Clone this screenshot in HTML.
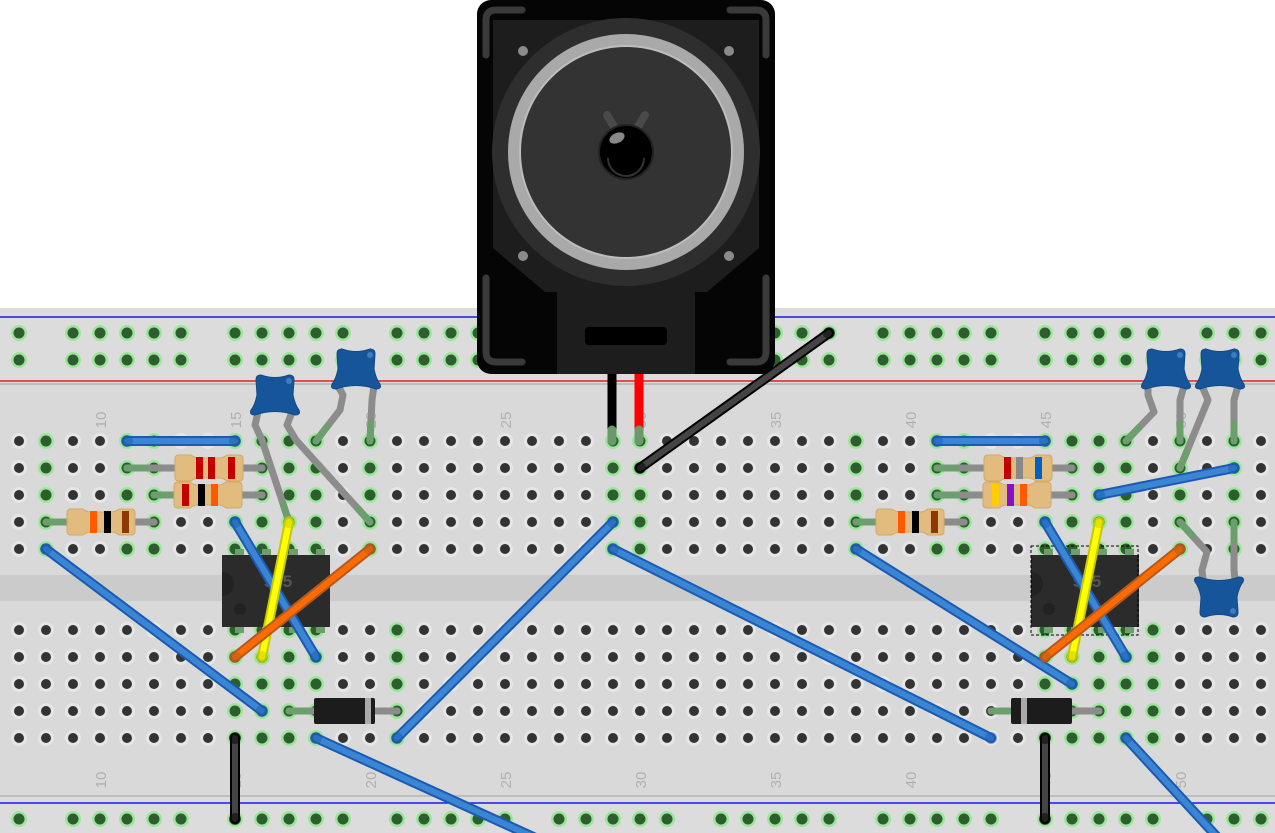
<!DOCTYPE html>
<html><head><meta charset="utf-8">
<style>html,body{margin:0;padding:0;background:#fff;overflow:hidden}svg{display:block}</style>
</head><body>
<svg id="s" xmlns="http://www.w3.org/2000/svg" width="1275" height="833" viewBox="0 0 1275 833">
<rect x="0" y="308" width="1275" height="525" fill="#dcdcdc"/>
<rect x="0" y="384" width="1275" height="412" fill="#d9d9d9"/>
<line x1="0" y1="384" x2="1275" y2="384" stroke="#bdbdbd" stroke-width="2"/>
<line x1="0" y1="796" x2="1275" y2="796" stroke="#bdbdbd" stroke-width="2"/>
<rect x="0" y="575" width="1275" height="26" fill="#cbcbcb"/>
<line x1="0" y1="317" x2="1275" y2="317" stroke="#1a1aee" stroke-width="1.5"/>
<line x1="0" y1="381" x2="1275" y2="381" stroke="#ee1a1a" stroke-width="1.5"/>
<line x1="0" y1="803" x2="1275" y2="803" stroke="#1a1aee" stroke-width="1.5"/>
<g id="holes"></g>
<g id="labels" font-family="Liberation Sans, sans-serif" font-size="15" fill="#b0b0b0"></g>
<g id="parts"></g>
</svg>
<script>
const NS="http://www.w3.org/2000/svg";
function el(p,t,a,txt){const e=document.createElementNS(NS,t);for(const k in a)e.setAttribute(k,a[k]);if(txt)e.textContent=txt;p.appendChild(e);return e;}
const H=document.getElementById('holes'),L=document.getElementById('labels'),P=document.getElementById('parts');
const cx=n=>27*n-170;
function hole(x,y,g){
  if(g){el(H,'circle',{cx:x,cy:y,r:8,fill:'#9be69b'});el(H,'circle',{cx:x,cy:y,r:5.5,fill:'#2e5e2e'});}
  else{el(H,'circle',{cx:x,cy:y,r:8,fill:'#e6e6e6'});el(H,'circle',{cx:x,cy:y,r:5,fill:'#333'});}
}
for(let n=7;n<=54;n++){ if((n-3)%6===5) continue; const x=cx(n);
  [333,360,819].forEach(y=>hole(x,y,true)); }
const topG=[8,11,12,15,16,17,18,20,29,30,38,41,42,45,46,47,48,50,52];
const botG=[15,16,17,18,21,45,46,47,48,49];
for(let n=7;n<=54;n++){const x=cx(n);
  [441,468,495,522,549].forEach(y=>hole(x,y,topG.includes(n)));
  [630,657,684,711,738].forEach(y=>hole(x,y,botG.includes(n)));}
[10,15,20,25,30,35,40,45,50].forEach(n=>{[412,772].forEach(y=>{
  el(L,'text',{x:0,y:0,transform:`translate(${cx(n)+6},${y+8}) rotate(-90)`,'text-anchor':'middle'},String(n));});});
const g=el(P,'g',{});
el(g,'rect',{x:477,y:0,width:298,height:374,rx:14,fill:'#050505'});
el(g,'path',{d:'M493 20 L493 248 L545 292 L557 292 L557 374 L695 374 L695 292 L707 292 L759 248 L759 20 Z',fill:'#1d1d1d'});
el(g,'circle',{cx:626,cy:152,r:134,fill:'#2e2e2e'});
el(g,'circle',{cx:626,cy:152,r:112,fill:'#333',stroke:'#a9a9a9','stroke-width':12});
el(g,'circle',{cx:626,cy:152,r:106,fill:'none',stroke:'#bdbdbd','stroke-width':2});
el(g,'path',{d:'M607 115 L616 130 M645 115 L636 130',stroke:'#4a4a4a','stroke-width':8,'stroke-linecap':'round'});
el(g,'circle',{cx:626,cy:152,r:27,fill:'#000',stroke:'#222','stroke-width':2});
el(g,'path',{d:'M608 158 A18 18 0 0 0 644 158',stroke:'#333','stroke-width':2,fill:'none'});
el(g,'ellipse',{cx:617,cy:138,rx:8,ry:5,fill:'#888',transform:'rotate(-25 617 138)'});
el(g,'rect',{x:585,y:327,width:82,height:18,rx:4,fill:'#000'});
[[523,51],[729,51],[523,256],[729,256]].forEach(([x,y])=>el(g,'circle',{cx:x,cy:y,r:5,fill:'#8a8a8a'}));
el(g,'path',{d:'M486 55 V20 Q486 10 496 10 H522 M766 55 V20 Q766 10 756 10 H730 M486 278 V352 Q486 362 496 362 H522 M766 278 V352 Q766 362 756 362 H730',stroke:'#3a3a3a','stroke-width':7,fill:'none','stroke-linecap':'round'});
el(P,'line',{x1:612,y1:374,x2:612,y2:437,stroke:'#000','stroke-width':9});
el(P,'line',{x1:639,y1:374,x2:639,y2:437,stroke:'#f00','stroke-width':9});
el(P,'line',{x1:612,y1:430,x2:612,y2:441,stroke:'#6a9a6a','stroke-width':9,'stroke-linecap':'round'});
el(P,'line',{x1:639,y1:430,x2:639,y2:441,stroke:'#6a9a6a','stroke-width':9,'stroke-linecap':'round'});
function lead(pts){el(P,'polyline',{points:pts.map(p=>p.join(',')).join(' '),fill:'none',stroke:'#8c8c8c','stroke-width':7,'stroke-linejoin':'round','stroke-linecap':'round'});
 const e=pts[pts.length-1],q=pts[pts.length-2];const dx=e[0]-q[0],dy=e[1]-q[1],d=Math.hypot(dx,dy),l=Math.min(18,d);
 el(P,'line',{x1:e[0]-dx/d*l,y1:e[1]-dy/d*l,x2:e[0],y2:e[1],stroke:'#6d9e6d','stroke-width':7,'stroke-linecap':'round'});}
function cap(x,y,flip){
 const s=flip?-1:1;const Y=v=>y+s*v;
 el(P,'path',{d:`M${x-19} ${Y(5)} Q${x-19} ${Y(0)} ${x-14} ${Y(0)} Q${x} ${Y(5)} ${x+14} ${Y(0)} Q${x+19} ${Y(0)} ${x+19} ${Y(5)} L${x+18} ${Y(20)} Q${x+20} ${Y(30)} ${x+24} ${Y(35)} Q${x+26} ${Y(40)} ${x+20} ${Y(40)} Q${x} ${Y(33)} ${x-20} ${Y(40)} Q${x-26} ${Y(40)} ${x-24} ${Y(35)} Q${x-20} ${Y(30)} ${x-18} ${Y(20)} Z`,fill:'#17559a',stroke:'#124a88','stroke-width':1});
 el(P,'circle',{cx:x+14,cy:Y(6),r:3,fill:'#3f7bbd'});
}
lead([[258,412],[255,425],[262,440],[289,522]]);
lead([[292,412],[287,425],[296,440],[370,522]]);
lead([[338,386],[343,395],[340,410],[316,441]]);
lead([[374,386],[372,400],[370,441]]);
cap(275,375,false);cap(356,349,false);
lead([[1148,386],[1148,395],[1154,412],[1126,441]]);
lead([[1184,386],[1180,400],[1180,441]]);
lead([[1202,386],[1208,400],[1180,468]]);
lead([[1238,386],[1234,400],[1234,441]]);
lead([[1203,580],[1202,570],[1207,552],[1180,522]]);
lead([[1235,580],[1234,570],[1234,522]]);
cap(1166,349,false);cap(1220,349,false);cap(1219,617,true);
function res(x1,x2,y,bx,bands){lead([[x1,y],[x2,y]]);lead([[x2,y],[x1,y]]);
 el(P,'path',{d:`M${bx+4} ${y-13} H${bx+16} Q${bx+20} ${y-10} ${bx+24} ${y-10} H${bx+44} Q${bx+48} ${y-10} ${bx+52} ${y-13} H${bx+64} Q${bx+68} ${y-13} ${bx+68} ${y-9} V${y+9} Q${bx+68} ${y+13} ${bx+64} ${y+13} H${bx+52} Q${bx+48} ${y+10} ${bx+44} ${y+10} H${bx+24} Q${bx+20} ${y+10} ${bx+16} ${y+13} H${bx+4} Q${bx} ${y+13} ${bx} ${y+9} V${y-9} Q${bx} ${y-13} ${bx+4} ${y-13} Z`,fill:'#e2bb7f',stroke:'#d2a865'});
 bands.forEach(([o,c])=>el(P,'rect',{x:bx+o,y:y-11,width:7,height:22,fill:c}));}
res(127,262,468,175,[[21,'#c40000'],[33,'#c40000'],[53,'#c40000']]);
res(154,262,495,174,[[8,'#c40000'],[24,'#000'],[37,'#ff5a00']]);
res(46,154,522,67,[[23,'#ff5a00'],[37,'#000'],[55,'#8b3a00']]);
res(937,1072,468,984,[[20,'#c40000'],[32,'#888'],[51,'#0060c0']]);
res(937,1072,495,983,[[9,'#ffcc00'],[24,'#8a10c8'],[37,'#ff5a00']]);
res(856,964,522,876,[[22,'#ff5a00'],[36,'#000'],[55,'#8b3a00']]);
function chip(x){[0,1,2,3].forEach(i=>{el(P,'rect',{x:x+9+27*i,y:549,width:9,height:9,fill:'#6d9e6d'});el(P,'rect',{x:x+9+27*i,y:624,width:9,height:9,fill:'#6d9e6d'});});
 el(P,'rect',{x:x-4,y:555,width:108,height:72,fill:'#2b2b2b'});
 el(P,'circle',{cx:x+14,cy:609,r:6,fill:'#222'});
 el(P,'path',{d:`M${x-4} 572 A12 12 0 0 1 ${x-4} 596`,fill:'#222'});
 el(P,'text',{x:x+52,y:587,'text-anchor':'middle','font-family':'Liberation Sans, sans-serif','font-size':17,'font-weight':'bold',fill:'#555'},'555');}
chip(226);chip(1035);
el(P,'rect',{x:1031,y:546,width:107,height:89,fill:'none',stroke:'#000','stroke-dasharray':'3,2','stroke-width':1});
function diode(x1,x2,bx,band){lead([[x1,711],[x2,711]]);lead([[x2,711],[x1,711]]);
 el(P,'rect',{x:bx,y:698,width:61,height:26,rx:2,fill:'#1c1c1c'});
 el(P,'rect',{x:bx+band,y:698,width:6,height:26,fill:'#aaa'});}
diode(289,397,314,51);diode(991,1099,1011,10);
function wire(x1,y1,x2,y2,c,o){
 el(P,'line',{x1,y1,x2,y2,stroke:o,'stroke-width':10,'stroke-linecap':'round'});
 el(P,'line',{x1,y1,x2,y2,stroke:c,'stroke-width':6,'stroke-linecap':'round'});
 [[x1,y1],[x2,y2]].forEach(([x,y])=>{if(y<833)el(P,'circle',{cx:x,cy:y,r:6,fill:o,'fill-opacity':0.5});});}
const B='#3a86d4',BO='#1c5ab0';
wire(127,441,235,441,B,BO);
wire(46,549,262,711,B,BO);
wire(235,522,316,657,B,BO);
wire(289,522,262,657,'#ffff00','#c8c800');
wire(370,549,235,657,'#ff6a00','#b05a20');
wire(613,522,397,738,B,BO);
wire(613,549,991,738,B,BO);
wire(316,738,540,840,B,BO);
wire(235,738,235,819,'#444','#000');
wire(640,468,829,333,'#444','#000');
wire(937,441,1045,441,B,BO);
wire(856,549,1072,684,B,BO);
wire(1045,522,1126,657,B,BO);
wire(1099,522,1072,657,'#ffff00','#c8c800');
wire(1180,549,1045,657,'#ff6a00','#b05a20');
wire(1099,495,1234,468,B,BO);
wire(1126,738,1220,840,B,BO);
wire(1045,738,1045,819,'#444','#000');
</script>
</body></html>
